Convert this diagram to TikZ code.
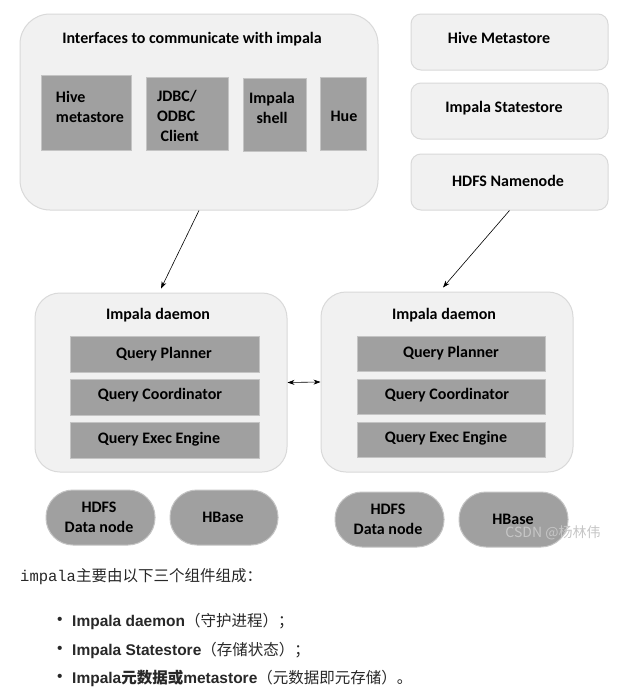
\documentclass[tikz,border=0pt]{standalone}
\usepackage{fontspec}
\usepackage{xcolor}
\usepackage{tikz}
\usetikzlibrary{arrows.meta}
\setmainfont{Carlito}
\newfontfamily\notefont{Liberation Sans}
\newfontfamily\codefont{Liberation Mono}
\newfontfamily\cjk{Noto Sans CJK SC}
\definecolor{boxfill}{RGB}{241,241,241}
\definecolor{boxline}{RGB}{217,217,217}
\definecolor{darkfill}{RGB}{160,160,160}
\definecolor{darkline}{RGB}{196,196,196}
\definecolor{notetext}{RGB}{40,40,40}
\definecolor{markgray}{RGB}{198,198,198}
\tikzset{
	lightbox/.style={draw=boxline, fill=boxfill, line width=1pt, rounded corners=#1, inner sep=0pt},
	lightbox/.default=10pt,
	darkbox/.style={draw=darkline, fill=darkfill, line width=1pt, inner sep=0pt},
	pill/.style={darkbox, rounded corners=27pt},
	lbl/.style={font=\fontsize{16}{20}\selectfont\bfseries, inner sep=0pt},
	note/.style={font=\fontsize{15.5}{19}\selectfont\notefont, text=notetext, anchor=west, inner sep=0pt},
	conn/.style={-{Stealth[length=7pt,width=5pt]}, line width=0.6pt},
}
\begin{document}
\begin{tikzpicture}[x=1pt,y=-1pt]
	\useasboundingbox[fill=white] (0,0) rectangle (637,691);
	% interfaces
	\node[lightbox=30pt, minimum width=358, minimum height=196] (intf) at (199,112) {};
	\node[lbl] (intftitle) at (192,39) {Interfaces to communicate with impala};
	\node[darkbox, minimum width=90, minimum height=75] (hivebox) at (86,112.5) {};
	\node[lbl, align=left] at (90,107) {Hive\\metastore};
	\node[darkbox, minimum width=82, minimum height=73] (jdbc) at (187,113.5) {};
	\node[lbl, align=left] at (178,115.5) {JDBC/\\ODBC\\\ Client};
	\node[darkbox, minimum width=63, minimum height=73] (shell) at (274.5,114.5) {};
	\node[lbl, align=center] at (272,107.5) {Impala\\shell};
	\node[darkbox, minimum width=46, minimum height=73] (hue) at (343,113.5) {};
	\node[lbl] at (344,116) {Hue};
	% services
	\node[lightbox, minimum width=197, minimum height=56] (metastore) at (509.5,42) {};
	\node[lbl] at (499,38) {Hive Metastore};
	\node[lightbox, minimum width=197, minimum height=56] (statestore) at (509.5,111) {};
	\node[lbl] at (504,108) {Impala Statestore};
	\node[lightbox, minimum width=197, minimum height=56] (namenode) at (509.5,182) {};
	\node[lbl] at (508,181) {HDFS Namenode};
	% daemon 1
	\node[lightbox=25pt, minimum width=252, minimum height=179] (daemonA) at (161,382.5) {};
	\node[lbl] at (158,315) {Impala daemon};
	\node[darkbox, minimum width=189, minimum height=36] (plannerA) at (164.5,354) {};
	\node[lbl] at (164,354) {Query Planner};
	\node[darkbox, minimum width=189, minimum height=36] (coordA) at (164.5,397) {};
	\node[lbl] at (160,395.5) {Query Coordinator};
	\node[darkbox, minimum width=189, minimum height=36] (execA) at (164.5,440) {};
	\node[lbl] at (159,439) {Query Exec Engine};
	% daemon 2
	\node[lightbox=25pt, minimum width=252, minimum height=180] (daemonB) at (447,382) {};
	\node[lbl] at (444,315) {Impala daemon};
	\node[darkbox, minimum width=188, minimum height=35] (plannerB) at (451,353.5) {};
	\node[lbl] at (451,353.5) {Query Planner};
	\node[darkbox, minimum width=188, minimum height=35] (coordB) at (451,396.5) {};
	\node[lbl] at (447,395.5) {Query Coordinator};
	\node[darkbox, minimum width=188, minimum height=35] (execB) at (451,439.5) {};
	\node[lbl] at (446,438.5) {Query Exec Engine};
	% storage
	\node[pill, minimum width=109, minimum height=55] (hdfsA) at (100.5,517.5) {};
	\node[lbl, align=center] at (99,517.5) {HDFS\\Data node};
	\node[pill, minimum width=108, minimum height=55] (hbaseA) at (224,517.5) {};
	\node[lbl] at (223,517.5) {HBase};
	\node[pill, minimum width=109, minimum height=55] (hdfsB) at (389.5,519.5) {};
	\node[lbl, align=center] at (388,519.5) {HDFS\\Data node};
	\node[pill, minimum width=109, minimum height=55] (hbaseB) at (513.5,519.5) {};
	\node[lbl] at (513,519.5) {HBase};
	\node[font=\fontsize{14}{16}\selectfont\cjk, text=markgray, inner sep=0pt] (mark) at (553,533) {CSDN @杨林伟};
	% arrows
	\draw[conn] (intf.south) -- ([yshift=4pt]daemonA.north);
	\draw[conn] (namenode.south) -- ([xshift=-4pt,yshift=4pt]daemonB.north);
	\draw[conn, {Stealth[length=7pt,width=5pt]}-{Stealth[length=7pt,width=5pt]}] (daemonA.east) -- (daemonB.west);
	% text below
	\node[note] (intro) at (20,577) {{\codefont impala}{\cjk 主要由以下三个组件组成：}};
	\node[note] (dotA) at (57,621) {\textbullet};
	\node[note] (itemA) at (72,621) {\bfseries Impala daemon{\cjk\mdseries （守护进程）；}};
	\node[note] (dotB) at (57,650) {\textbullet};
	\node[note] (itemB) at (72,650) {\bfseries Impala Statestore{\cjk\mdseries （存储状态）；}};
	\node[note] (dotC) at (57,678) {\textbullet};
	\node[note] (itemC) at (72,678) {\bfseries Impala{\cjk 元数据或}metastore{\cjk\mdseries （元数据即元存储）。}};
\end{tikzpicture}
\end{document}
